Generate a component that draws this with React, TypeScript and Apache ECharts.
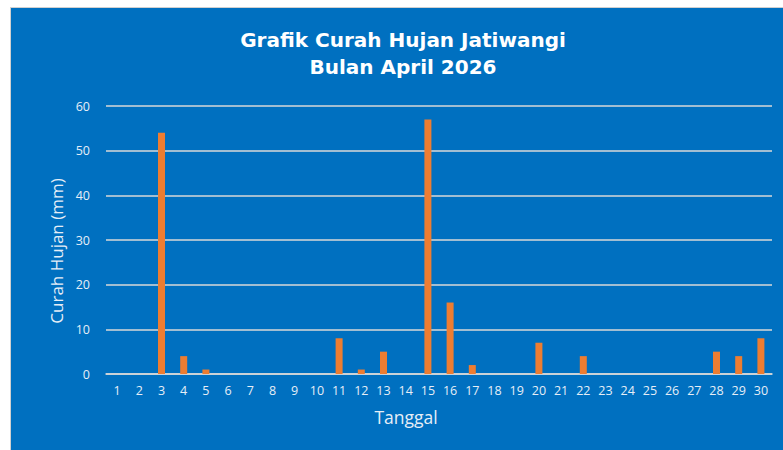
import React, { useEffect, useRef } from "react";
import * as echarts from "echarts";

const days: string[] = [
  "1","2","3","4","5","6","7","8","9","10",
  "11","12","13","14","15","16","17","18","19","20",
  "21","22","23","24","25","26","27","28","29","30",
];
const rainfall: number[] = [
  0, 0, 54, 4, 1, 0, 0, 0, 0, 0,
  8, 1, 5, 0, 57, 16, 2, 0, 0, 7,
  0, 4, 0, 0, 0, 0, 0, 5, 4, 8,
];
const titleText = "Grafik Curah Hujan Jatiwangi\nBulan April 2026";
const xName = "Tanggal";
const yName = "Curah Hujan (mm)";

export default function App() {
  const ref = useRef<HTMLDivElement>(null);
  useEffect(() => {
    if (!ref.current) return;
    const chart = echarts.init(ref.current, null, { renderer: "svg" });
    const font = "'Open Sans', Lato, sans-serif";
    chart.setOption({
      animation: false,
      backgroundColor: "transparent",
      textStyle: { fontFamily: font },
      title: {
        text: titleText,
        left: 398,
        textAlign: "center",
        top: 21,
        textStyle: {
          color: "#ffffff",
          fontSize: 20,
          fontWeight: "bold",
          lineHeight: 27,
          fontFamily: "'DejaVu Sans', sans-serif",
        },
      },
      grid: { left: 106, right: 11, top: 106, bottom: 76 },
      xAxis: {
        type: "category",
        data: days,
        name: xName,
        nameLocation: "middle",
        nameGap: 34,
        nameTextStyle: { color: "#e6eef7", fontSize: 17.5, fontFamily: font, padding: [0, 66, 0, 0] },
        axisTick: { show: false },
        axisLine: { lineStyle: { color: "#d9d9d9", width: 1.5 } },
        axisLabel: { color: "#e6eef7", fontSize: 12.5, margin: 10, fontFamily: font },
      },
      yAxis: {
        type: "value",
        min: 0,
        max: 60,
        interval: 10,
        name: yName,
        nameLocation: "middle",
        nameGap: 39,
        nameRotate: 90,
        nameTextStyle: { color: "#e6eef7", fontSize: 17, fontFamily: font, padding: [0, 0, 0, -22] },
        axisLine: { show: false },
        axisTick: { show: false },
        axisLabel: { color: "#e6eef7", fontSize: 12.5, margin: 16, fontFamily: font },
        splitLine: { lineStyle: { color: "#d9d9d9", width: 1.5 } },
      },
      series: [
        {
          type: "bar",
          data: rainfall,
          barWidth: 7,
          itemStyle: { color: "#ED7D31" },
        },
      ],
    });
    return () => chart.dispose();
  }, []);
  return (
    <div style={{ position: "absolute", left: 0, top: 0, width: 783, height: 450, background: "#ffffff" }}>
      <div
        style={{
          position: "absolute",
          left: 10,
          top: 7,
          width: 780,
          height: 450,
          background: "#0070C0",
          borderLeft: "1.5px solid #d0d0d0",
          borderTop: "1.5px solid #d0d0d0",
        }}
      />
      <div ref={ref} style={{ position: "absolute", left: 0, top: 0, width: 783, height: 450 }} />
    </div>
  );
}
